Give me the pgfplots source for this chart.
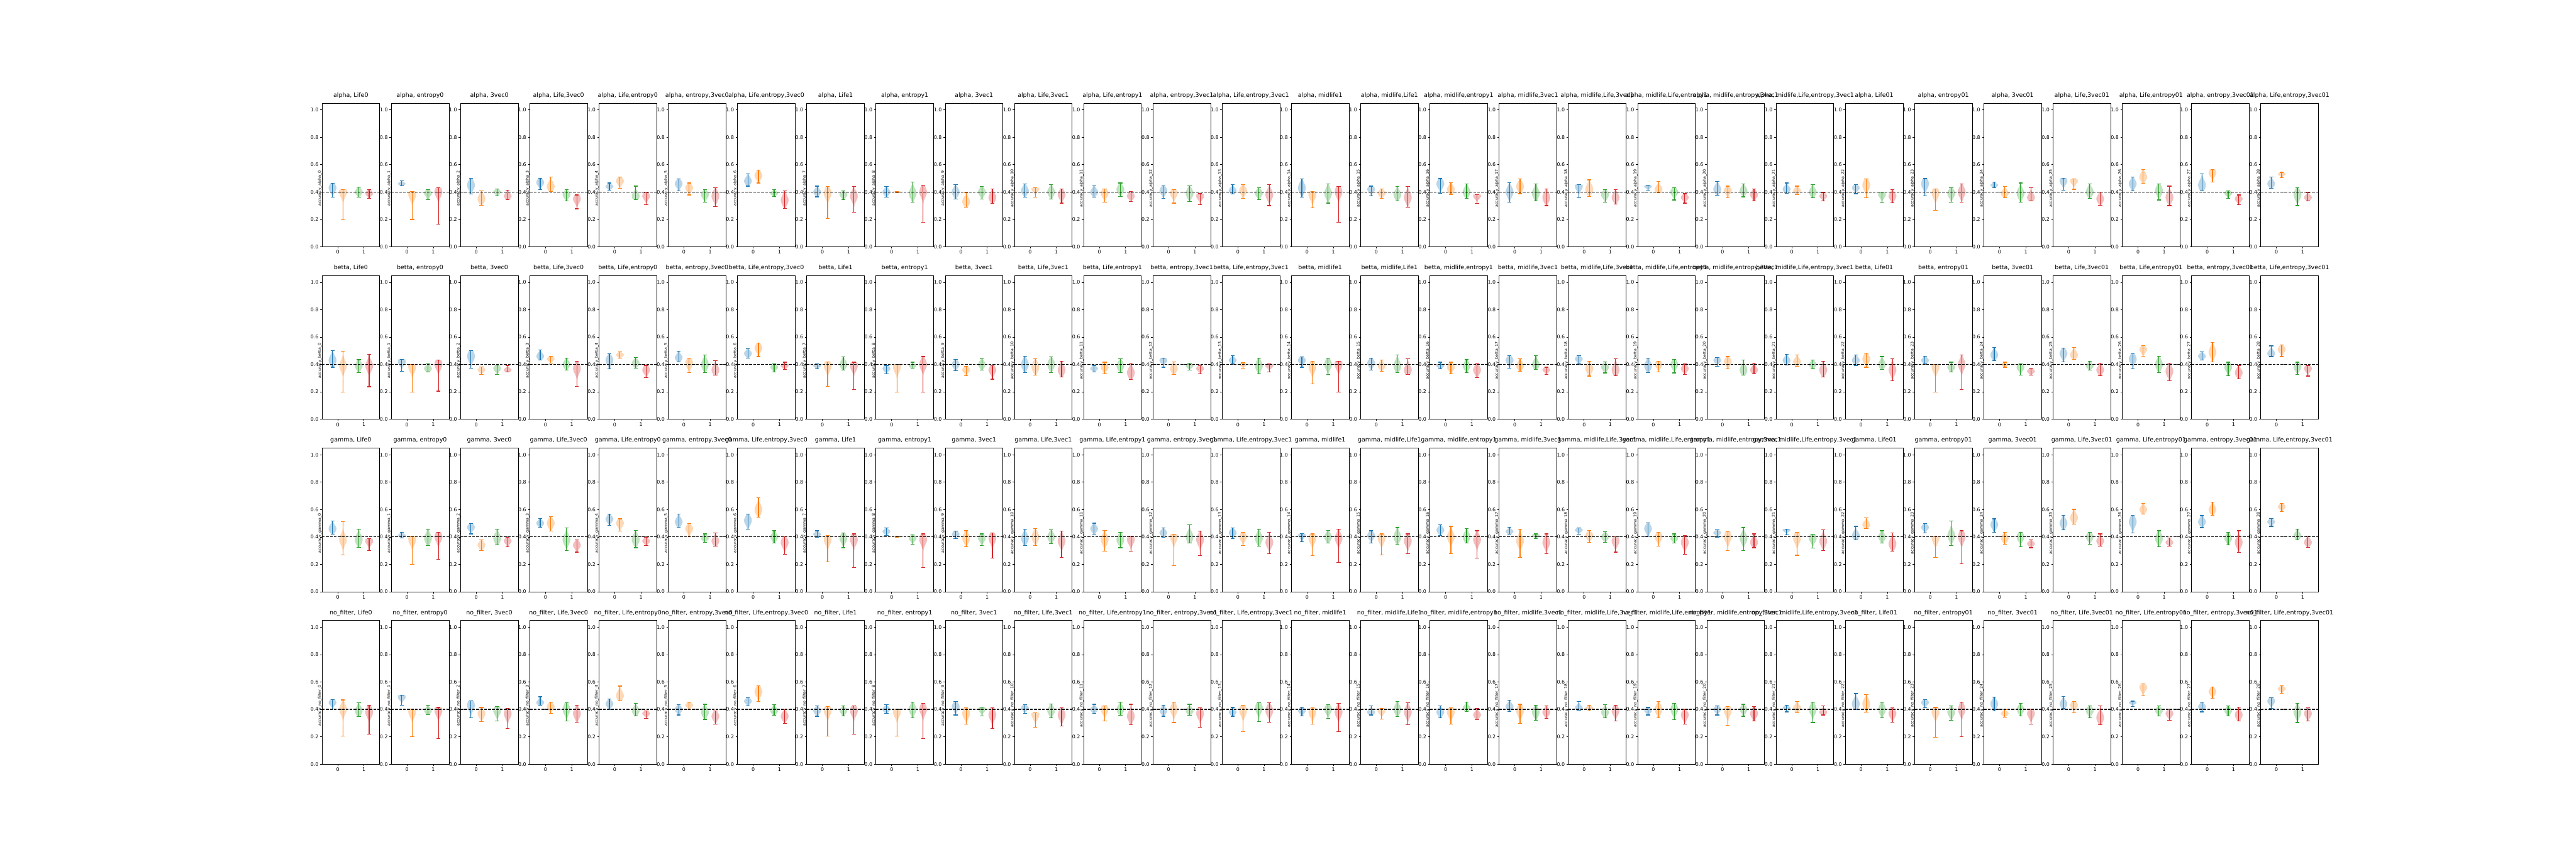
\documentclass[border=0pt]{standalone}
\usepackage{fontspec}
\setmainfont{DejaVu Sans}
\usepackage{pgfplots}
\usepackage{pgfplotstable}
\pgfplotsset{compat=1.18}
\definecolor{tabblue}{HTML}{1F77B4}
\definecolor{taborange}{HTML}{FF7F0E}
\definecolor{tabgreen}{HTML}{2CA02C}
\definecolor{tabred}{HTML}{D62728}

% alpha
\pgfplotstableread{
c blo bmo bhi olo omo ohi glo gmo ghi rlo rmo rhi
0 .361 .43 .463 .196 .40 .418 .361 .40 .437 .355 .39 .418
1 .445 .46 .482 .199 .38 .403 .343 .39 .418 .163 .40 .431
2 .384 .45 .502 .301 .35 .408 .372 .40 .422 .343 .37 .413
3 .418 .47 .502 .403 .44 .51 .335 .38 .417 .277 .35 .378
4 .414 .44 .466 .427 .48 .511 .345 .37 .443 .309 .37 .394
5 .407 .46 .495 .378 .43 .466 .326 .38 .417 .293 .37 .433
6 .443 .48 .531 .466 .52 .560 .368 .39 .417 .280 .34 .407
7 .365 .40 .443 .208 .39 .44 .345 .38 .41 .251 .37 .44
8 .362 .40 .44 .397 .40 .404 .326 .39 .472 .179 .40 .45
9 .349 .40 .453 .29 .33 .394 .349 .40 .44 .316 .36 .423
10 .362 .41 .459 .362 .42 .43 .349 .40 .453 .319 .38 .423
11 .362 .40 .446 .326 .39 .423 .368 .42 .466 .332 .37 .404
12 .355 .41 .446 .319 .39 .417 .332 .39 .446 .306 .37 .388
13 .384 .41 .456 .355 .41 .453 .345 .39 .43 .30 .38 .456
14 .362 .43 .495 .283 .38 .404 .319 .39 .459 .179 .40 .44
15 .371 .42 .443 .352 .39 .423 .336 .38 .44 .287 .36 .44
16 .391 .46 .498 .381 .42 .469 .352 .40 .459 .316 .37 .381
17 .326 .40 .469 .388 .44 .495 .336 .39 .459 .30 .36 .423
18 .358 .44 .453 .368 .42 .489 .326 .38 .417 .313 .36 .417
19 .41 .44 .45 .394 .42 .476 .342 .40 .433 .319 .36 .388
20 .375 .42 .476 .358 .41 .443 .365 .41 .459 .336 .38 .423
21 .391 .42 .466 .381 .41 .443 .358 .40 .453 .336 .37 .397
22 .388 .43 .453 .358 .45 .495 .322 .38 .40 .322 .37 .417
23 .371 .46 .498 .267 .39 .423 .326 .39 .43 .326 .40 .459
24 .433 .45 .472 .358 .39 .44 .326 .39 .466 .336 .36 .43
25 .414 .48 .502 .42 .48 .495 .352 .40 .459 .303 .35 .40
26 .41 .46 .511 .463 .51 .564 .342 .41 .459 .30 .36 .443
27 .41 .45 .531 .472 .54 .564 .355 .39 .41 .309 .35 .378
28 .427 .46 .508 .505 .53 .544 .30 .38 .433 .336 .36 .397
}\tabA
% betta
\pgfplotstableread{
c blo bmo bhi olo omo ohi glo gmo ghi rlo rmo rhi
0 .38 .43 .50 .198 .39 .497 .341 .39 .435 .237 .39 .474
1 .351 .42 .438 .198 .38 .40 .344 .37 .409 .205 .40 .432
2 .373 .46 .503 .328 .36 .383 .328 .37 .396 .344 .36 .393
3 .432 .46 .506 .409 .44 .461 .36 .40 .448 .24 .37 .425
4 .367 .43 .477 .445 .47 .494 .373 .41 .451 .302 .36 .393
5 .419 .45 .497 .341 .41 .448 .341 .40 .468 .321 .36 .429
6 .445 .48 .516 .458 .52 .555 .347 .38 .406 .364 .39 .416
7 .367 .39 .406 .24 .39 .419 .36 .40 .455 .218 .39 .416
8 .331 .37 .393 .198 .38 .40 .373 .39 .416 .198 .40 .458
9 .354 .40 .438 .318 .36 .386 .36 .40 .442 .292 .36 .39
10 .341 .40 .461 .321 .38 .442 .341 .40 .455 .308 .36 .425
11 .344 .37 .393 .331 .38 .416 .341 .39 .442 .289 .34 .409
12 .38 .43 .448 .325 .37 .419 .36 .39 .409 .331 .37 .39
13 .403 .43 .464 .373 .40 .412 .331 .39 .448 .347 .39 .403
14 .38 .43 .455 .256 .38 .425 .328 .40 .445 .198 .40 .425
15 .36 .41 .448 .351 .39 .432 .341 .39 .468 .328 .36 .442
16 .367 .39 .416 .331 .38 .416 .341 .39 .435 .305 .36 .409
17 .373 .43 .464 .351 .39 .442 .364 .40 .464 .325 .36 .38
18 .403 .44 .464 .315 .37 .425 .338 .38 .419 .318 .36 .442
19 .341 .39 .448 .344 .40 .425 .338 .40 .438 .325 .37 .406
20 .386 .43 .451 .367 .42 .458 .321 .36 .432 .331 .36 .409
21 .396 .43 .474 .386 .42 .468 .367 .40 .432 .308 .36 .425
22 .393 .43 .471 .38 .44 .484 .364 .40 .458 .279 .36 .442
23 .403 .43 .461 .198 .38 .40 .344 .38 .416 .218 .40 .471
24 .429 .47 .523 .38 .40 .416 .321 .38 .406 .321 .35 .373
25 .419 .48 .519 .438 .47 .526 .36 .39 .425 .318 .36 .409
26 .367 .44 .477 .461 .51 .539 .341 .40 .461 .279 .35 .409
27 .432 .46 .494 .419 .49 .562 .318 .38 .416 .295 .34 .393
28 .458 .48 .536 .458 .51 .542 .328 .38 .416 .315 .37 .393
}\tabB
% gamma
\pgfplotstableread{
c blo bmo bhi olo omo ohi glo gmo ghi rlo rmo rhi
0 .419 .46 .516 .269 .38 .51 .325 .38 .458 .299 .37 .386
1 .393 .41 .435 .198 .38 .403 .338 .39 .455 .237 .40 .435
2 .422 .47 .497 .299 .34 .377 .341 .39 .455 .328 .37 .399
3 .471 .50 .536 .442 .50 .549 .299 .38 .464 .289 .34 .377
4 .484 .53 .565 .442 .50 .532 .321 .38 .448 .338 .37 .399
5 .471 .51 .568 .406 .46 .497 .36 .39 .422 .331 .37 .429
6 .458 .52 .568 .545 .60 .688 .357 .40 .445 .273 .36 .403
7 .399 .42 .445 .218 .38 .409 .321 .39 .429 .175 .38 .422
8 .409 .44 .464 .397 .40 .404 .347 .39 .416 .175 .38 .422
9 .386 .42 .442 .328 .39 .445 .338 .39 .422 .244 .39 .429
10 .338 .39 .455 .338 .40 .461 .351 .40 .451 .25 .37 .442
11 .419 .46 .50 .295 .38 .448 .321 .38 .435 .295 .38 .406
12 .396 .43 .464 .192 .40 .419 .354 .40 .487 .263 .38 .442
13 .386 .43 .464 .338 .40 .432 .331 .39 .455 .279 .36 .435
14 .364 .41 .425 .263 .39 .422 .354 .40 .448 .214 .39 .455
15 .357 .41 .445 .269 .39 .422 .347 .40 .468 .279 .37 .422
16 .409 .45 .487 .279 .40 .477 .354 .40 .461 .247 .38 .445
17 .419 .44 .471 .25 .37 .458 .386 .41 .422 .279 .36 .422
18 .419 .45 .464 .36 .41 .448 .36 .40 .438 .289 .37 .403
19 .406 .46 .503 .331 .40 .432 .357 .39 .422 .273 .36 .409
20 .399 .43 .451 .302 .40 .438 .302 .39 .468 .321 .36 .422
21 .416 .45 .458 .266 .39 .432 .318 .39 .419 .302 .37 .451
22 .38 .41 .477 .461 .49 .539 .357 .40 .445 .295 .35 .429
23 .429 .47 .497 .25 .39 .406 .338 .41 .516 .205 .40 .445
24 .435 .49 .532 .347 .39 .432 .328 .40 .432 .321 .35 .377
25 .451 .50 .558 .494 .54 .601 .347 .40 .435 .334 .37 .422
26 .429 .51 .558 .565 .60 .646 .328 .39 .445 .334 .36 .393
27 .468 .51 .555 .558 .60 .653 .341 .39 .432 .286 .36 .445
28 .477 .51 .536 .584 .62 .646 .377 .41 .455 .325 .36 .406
}\tabC
% no_filter
\pgfplotstableread{
c blo bmo bhi olo omo ohi glo gmo ghi rlo rmo rhi
0 .402 .45 .473 .204 .40 .469 .348 .39 .449 .218 .38 .432
1 .432 .49 .505 .199 .38 .403 .362 .39 .432 .186 .39 .414
2 .338 .43 .463 .311 .37 .414 .315 .39 .421 .259 .37 .408
3 .43 .45 .492 .372 .42 .453 .314 .40 .45 .307 .37 .43
4 .398 .44 .476 .463 .50 .57 .353 .39 .443 .333 .37 .388
5 .359 .40 .434 .398 .43 .453 .327 .38 .437 .291 .35 .388
6 .424 .46 .485 .456 .53 .573 .356 .39 .434 .298 .35 .398
7 .35 .39 .424 .204 .39 .421 .353 .39 .427 .22 .39 .424
8 .369 .40 .434 .204 .38 .401 .34 .40 .453 .188 .40 .443
9 .359 .42 .456 .291 .37 .411 .353 .40 .417 .262 .36 .411
10 .372 .41 .434 .269 .36 .375 .34 .39 .44 .278 .36 .411
11 .372 .40 .437 .317 .40 .424 .356 .40 .453 .288 .35 .437
12 .35 .39 .43 .304 .40 .453 .356 .39 .437 .269 .37 .411
13 .35 .38 .414 .236 .39 .43 .311 .41 .45 .307 .39 .45
14 .353 .39 .417 .291 .38 .411 .333 .40 .434 .236 .38 .443
15 .359 .38 .424 .33 .39 .408 .346 .40 .456 .288 .38 .45
16 .34 .38 .424 .291 .38 .411 .385 .41 .453 .324 .36 .405
17 .385 .42 .466 .298 .39 .437 .32 .38 .43 .333 .38 .424
18 .392 .41 .456 .388 .41 .43 .34 .38 .434 .317 .39 .43
19 .359 .39 .414 .34 .40 .456 .324 .40 .443 .294 .36 .401
20 .359 .40 .427 .285 .39 .421 .35 .40 .437 .314 .37 .421
21 .382 .41 .43 .375 .41 .456 .304 .40 .453 .359 .38 .424
22 .398 .44 .515 .379 .44 .508 .337 .40 .453 .307 .37 .411
23 .411 .45 .472 .197 .38 .414 .32 .38 .427 .201 .40 .453
24 .388 .44 .489 .343 .37 .398 .353 .40 .443 .294 .37 .401
25 .405 .44 .495 .375 .43 .456 .337 .39 .427 .288 .34 .427
26 .421 .45 .46 .498 .56 .586 .353 .39 .424 .32 .37 .401
27 .382 .42 .453 .479 .53 .563 .353 .39 .427 .314 .36 .417
28 .405 .46 .485 .518 .55 .573 .304 .38 .443 .314 .37 .411
}\tabD

\newcommand\suffix[1]{\ifcase\numexpr#1\relax Life0\or entropy0\or 3vec0\or Life,3vec0\or Life,entropy0\or entropy,3vec0\or Life,entropy,3vec0\or Life1\or entropy1\or 3vec1\or Life,3vec1\or Life,entropy1\or entropy,3vec1\or Life,entropy,3vec1\or midlife1\or midlife,Life1\or midlife,entropy1\or midlife,3vec1\or midlife,Life,3vec1\or midlife,Life,entropy1\or midlife,entropy,3vec1\or midlife,Life,entropy,3vec1\or Life01\or entropy01\or 3vec01\or Life,3vec01\or Life,entropy01\or entropy,3vec01\or Life,entropy,3vec01\fi}
\newcommand\rowname[1]{\ifcase\numexpr#1\relax alpha\or betta\or gamma\or no\_filter\fi}

\newcommand\getv[2]{%
  \ifcase\rr\relax
    \pgfplotstablegetelem{\cc}{#1}\of\tabA
  \or \pgfplotstablegetelem{\cc}{#1}\of\tabB
  \or \pgfplotstablegetelem{\cc}{#1}\of\tabC
  \else \pgfplotstablegetelem{\cc}{#1}\of\tabD
  \fi
  \let#2\pgfplotsretval}

% pos lo mode hi colour
\newcommand\violin[5]{%
  \pgfmathsetmacro\vlo{#2}%
  \pgfmathsetmacro\vhi{#4}%
  \pgfmathsetmacro\vmo{#3}%
  \pgfmathsetmacro\vs{max(0.006,min(0.035,(\vhi-\vlo)/3.5))}%
  \gdef\vR{}\gdef\vL{}%
  \foreach \k in {0,...,10}{%
    \pgfmathsetmacro\vy{\vlo+(\vhi-\vlo)*\k/10}%
    \pgfmathsetmacro\vd{(\vy-\vmo)/\vs}%
    \pgfmathsetmacro\vq{min(10,0.5*\vd*\vd)}%
    \pgfmathsetmacro\vw{max(0.015,0.15*exp(-\vq))}%
    \pgfmathsetmacro\vxr{#1+\vw}%
    \pgfmathsetmacro\vxl{#1-\vw}%
    \xdef\vR{\vR (\vxr,\vy)}%
    \xdef\vL{(\vxl,\vy) \vL}%
  }%
  \pgfmathsetmacro\vcl{#1-0.075}%
  \pgfmathsetmacro\vcr{#1+0.075}%
  \edef\vtmp{\noexpand\addplot[draw=none,fill=#5,fill opacity=0.3,smooth] coordinates {\vR\space\vL};}\vtmp
  \edef\vtmp{\noexpand\addplot[#5,line width=1.5pt] coordinates {(#1,\vlo) (#1,\vhi)};}\vtmp
  \edef\vtmp{\noexpand\addplot[#5,line width=1.5pt] coordinates {(\vcl,\vlo) (\vcr,\vlo)};}\vtmp
  \edef\vtmp{\noexpand\addplot[#5,line width=1.5pt] coordinates {(\vcl,\vhi) (\vcr,\vhi)};}\vtmp
}
\newcommand\onev[3]{%
  \getv{#1lo}\tlo \getv{#1mo}\tmo \getv{#1hi}\thi
  \violin{#2}{\tlo}{\tmo}{\thi}{#3}}

\pgfplotsset{myaxis/.style={
  scale only axis, width=116.116pt, height=289.252pt,
  xmin=-0.6, xmax=1.6, ymin=0, ymax=1.05,
  xtick={0,1}, ytick={0,0.2,0.4,0.6,0.8,1.0},
  yticklabel style={/pgf/number format/.cd, fixed, fixed zerofill, precision=1},
  /pgf/number format/assume math mode=true,
  tick align=outside, tick pos=left, major tick length=3.5pt,
  tick style={black, line width=0.8pt},
  axis line style={line width=0.8pt},
  tick label style={font=\fontsize{10}{12}\selectfont},
  title style={font=\fontsize{12}{14}\selectfont, at={(0.5,1)}, anchor=base, yshift=6pt, inner sep=0pt},
  ylabel style={font=\fontsize{8}{9.6}\selectfont, at={(axis description cs:0,0.5)}, anchor=south, xshift=-26.9pt, inner sep=0pt},
}}

\begin{document}
\begin{tikzpicture}
\path[use as bounding box] (0,0) rectangle (5184pt,1728pt);
\foreach \rr in {0,...,3}{%
 \foreach \cc in {0,...,28}{%
  \begin{axis}[myaxis, at={(648pt+\cc*139.339pt,1520.64pt-\rr*347.103pt)}, anchor=north west,
    title={\rowname{\rr}, \suffix{\cc}}, ylabel={accuracy\_\rowname{\rr}\_\cc}]
   \onev{b}{-0.2}{tabblue}
   \onev{o}{0.2}{taborange}
   \onev{g}{0.8}{tabgreen}
   \onev{r}{1.2}{tabred}
   \addplot[black, line width=1.5pt, dash pattern=on 5.55pt off 2.4pt] coordinates {(-0.6,0.4) (1.6,0.4)};
  \end{axis}
 }%
}
\end{tikzpicture}
\end{document}
